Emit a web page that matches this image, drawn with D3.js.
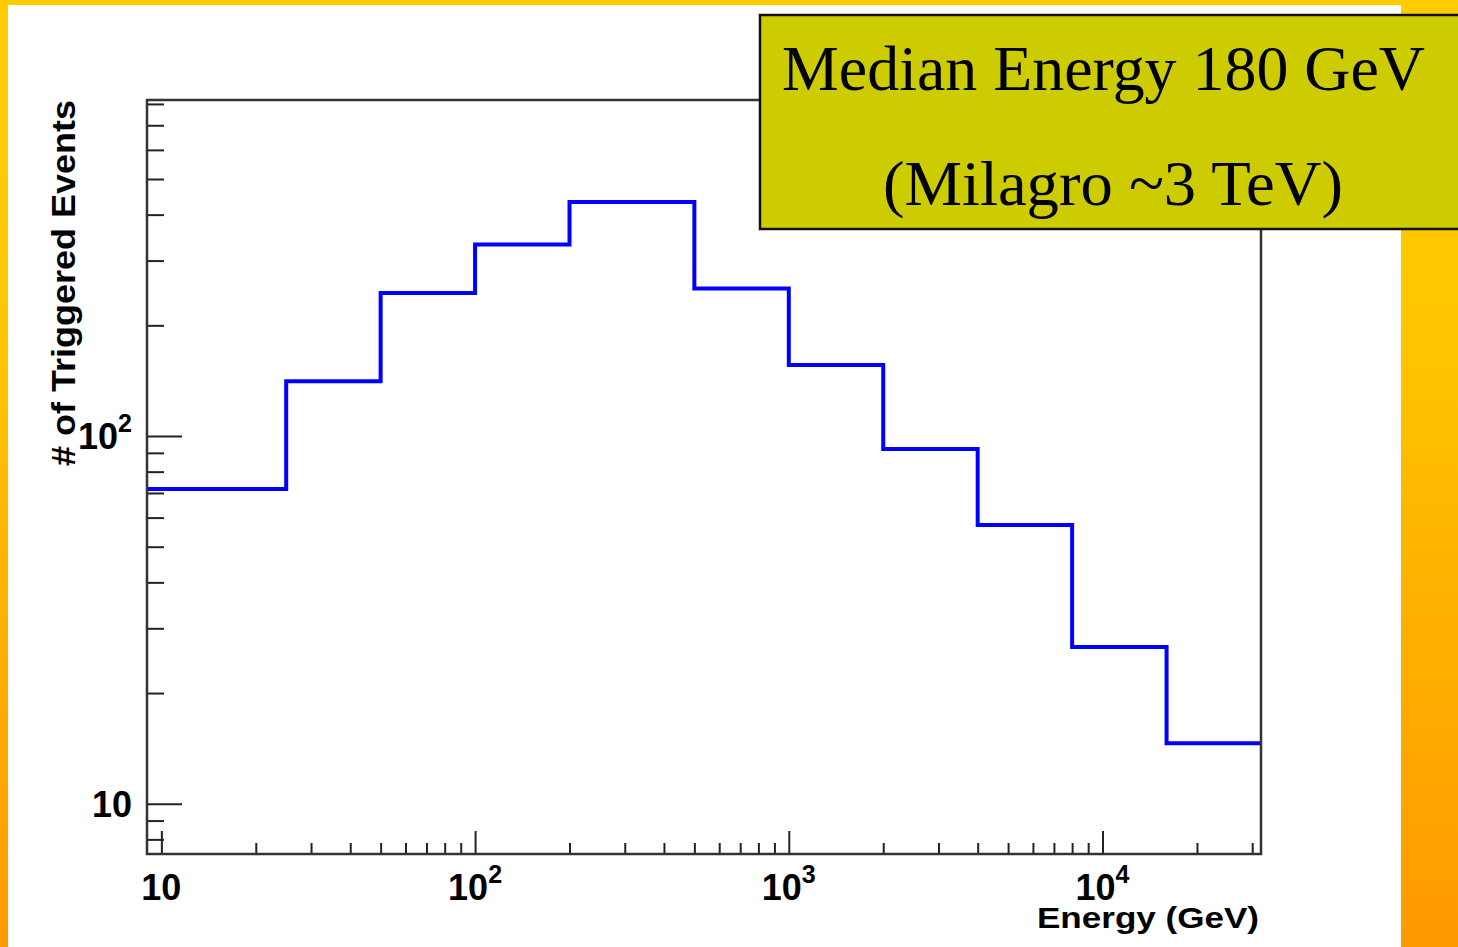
<!DOCTYPE html>
<html>
<head>
<meta charset="utf-8">
<script src="https://cdn.jsdelivr.net/npm/d3@7/dist/d3.min.js"></script>
<style>
  html, body { margin: 0; padding: 0; background: #fff; }
  svg { display: block; }
</style>
</head>
<body>
<svg id="chart" width="1458" height="947"></svg>
<script>
// Histogram of triggered events versus primary energy (log-log)
const binEdges = [9, 25, 50, 100, 200, 500, 1000, 2000, 4000, 8000, 16000, 32000];
const binCounts = [71.8, 141, 245, 332, 433, 252, 156, 92.2, 57.3, 26.7, 14.6];

const xDomain = [9, 32000];
const yDomain = [7.3, 820];

const xMajorTicks = [10, 100, 1000, 10000];
const xMajorLabels = [["10", ""], ["10", "2"], ["10", "3"], ["10", "4"]];
const xMinorTicks = [20, 30, 40, 50, 60, 70, 80, 90,
                     200, 300, 400, 500, 600, 700, 800, 900,
                     2000, 3000, 4000, 5000, 6000, 7000, 8000, 9000,
                     20000, 30000];

const yMajorTicks = [10, 100];
const yMajorLabels = [["10", ""], ["10", "2"]];
const yMinorTicks = [8, 9, 20, 30, 40, 50, 60, 70, 80, 90,
                     200, 300, 400, 500, 600, 700, 800];

const xTitle = "Energy (GeV)";
const yTitle = "# of Triggered Events";
const noteLines = ["Median Energy 180 GeV", "(Milagro ~3 TeV)"];

const svg = d3.select("#chart");
const W = 1458, H = 947;

// slide background
const defs = svg.append("defs");
const grad = defs.append("linearGradient")
  .attr("id", "bg").attr("x1", 0).attr("y1", 0).attr("x2", 0).attr("y2", 1);
grad.append("stop").attr("offset", "0").attr("stop-color", "#FFCC00");
grad.append("stop").attr("offset", "0.3").attr("stop-color", "#FFC800");
grad.append("stop").attr("offset", "1").attr("stop-color", "#FF9A00");
svg.append("rect").attr("width", W).attr("height", H).attr("fill", "url(#bg)");
svg.append("rect").attr("x", 8).attr("y", 5).attr("width", 1393).attr("height", H - 5)
  .attr("fill", "#fff");

// plot frame
const frame = { left: 147, right: 1261, top: 100, bottom: 854 };
const x = d3.scaleLog().domain(xDomain).range([frame.left, frame.right]);
const y = d3.scaleLog().domain(yDomain).range([frame.bottom, frame.top]);

const axisColor = "#222";

// ticks pointing inward
function drawAxis(gen, transform) {
  const g = svg.append("g").attr("transform", transform).call(gen);
  g.select(".domain").remove();
  g.selectAll(".tick line").attr("stroke", axisColor).attr("stroke-width", 2);
  return g;
}
drawAxis(d3.axisBottom(x).tickValues(xMinorTicks).tickSize(-11).tickFormat(""),
  `translate(0,${frame.bottom})`);
drawAxis(d3.axisBottom(x).tickValues(xMajorTicks).tickSize(-23).tickFormat(""),
  `translate(0,${frame.bottom})`);
drawAxis(d3.axisLeft(y).tickValues(yMinorTicks).tickSize(-17).tickFormat(""),
  `translate(${frame.left},0)`);
drawAxis(d3.axisLeft(y).tickValues(yMajorTicks).tickSize(-35).tickFormat(""),
  `translate(${frame.left},0)`);

// step histogram
const stepPts = [];
binCounts.forEach((v, i) => {
  stepPts.push([binEdges[i], v]);
  stepPts.push([binEdges[i + 1], v]);
});
const line = d3.line().x(d => x(d[0])).y(d => y(d[1]));
svg.append("path")
  .attr("d", line(stepPts))
  .attr("fill", "none")
  .attr("stroke", "#0000FF")
  .attr("stroke-width", 4)
  .attr("stroke-linejoin", "miter");

// frame
svg.append("rect")
  .attr("x", frame.left).attr("y", frame.top)
  .attr("width", frame.right - frame.left).attr("height", frame.bottom - frame.top)
  .attr("fill", "none").attr("stroke", "#333").attr("stroke-width", 2.5);

const sansFont = "'Liberation Sans', Arial, Helvetica, sans-serif";

function powerLabel(sel, base, exp) {
  sel.append("tspan").text(base);
  if (exp) {
    sel.append("tspan").attr("dy", -17).attr("font-size", 25).text(exp);
  }
}

// x tick labels
xMajorTicks.forEach((t, i) => {
  const txt = svg.append("text")
    .attr("x", x(t))
    .attr("y", 900)
    .attr("text-anchor", "middle")
    .attr("font-family", sansFont).attr("font-weight", "bold")
    .attr("font-size", 36).attr("fill", "#000");
  powerLabel(txt, xMajorLabels[i][0], xMajorLabels[i][1]);
});

// y tick labels
yMajorTicks.forEach((t, i) => {
  const txt = svg.append("text")
    .attr("x", 132)
    .attr("y", y(t) + 13)
    .attr("text-anchor", "end")
    .attr("font-family", sansFont).attr("font-weight", "bold")
    .attr("font-size", 36).attr("fill", "#000");
  powerLabel(txt, yMajorLabels[i][0], yMajorLabels[i][1]);
});

// axis titles
svg.append("text")
  .attr("x", 1259).attr("y", 928)
  .attr("text-anchor", "end")
  .attr("font-family", sansFont).attr("font-weight", "bold")
  .attr("font-size", 30)
  .attr("textLength", 222).attr("lengthAdjust", "spacingAndGlyphs")
  .text(xTitle);

svg.append("text")
  .attr("transform", `translate(75,100) rotate(-90)`)
  .attr("text-anchor", "end")
  .attr("font-family", sansFont).attr("font-weight", "bold")
  .attr("font-size", 34)
  .attr("textLength", 366).attr("lengthAdjust", "spacingAndGlyphs")
  .text(yTitle);

// annotation box
const box = { x: 760, y: 15, w: 720, h: 214 };
svg.append("rect")
  .attr("x", box.x).attr("y", box.y).attr("width", box.w).attr("height", box.h)
  .attr("fill", "#CCCC00").attr("stroke", "#111").attr("stroke-width", 2.5);

const serifFont = "'Liberation Serif', 'Times New Roman', serif";
svg.append("text")
  .attr("x", 782).attr("y", 90)
  .attr("font-family", serifFont).attr("font-size", 64).attr("fill", "#000")
  .attr("textLength", 643).attr("lengthAdjust", "spacingAndGlyphs")
  .text(noteLines[0]);
svg.append("text")
  .attr("x", 883).attr("y", 205)
  .attr("font-family", serifFont).attr("font-size", 64).attr("fill", "#000")
  .attr("textLength", 460).attr("lengthAdjust", "spacingAndGlyphs")
  .text(noteLines[1]);
</script>
</body>
</html>
